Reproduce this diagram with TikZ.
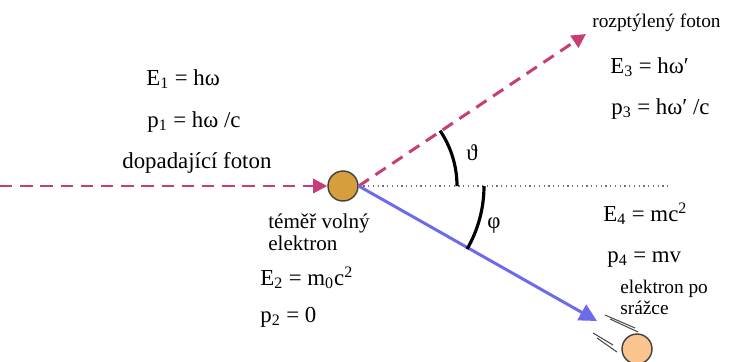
\documentclass[tikz,border=0pt]{standalone}
\usepackage{fontspec}
\setmainfont{Liberation Serif}
\usetikzlibrary{arrows.meta,positioning}
\definecolor{photon}{HTML}{C83C78}
\definecolor{elpath}{HTML}{6B6BEB}
\definecolor{elgold}{HTML}{D69E3C}
\definecolor{elpeach}{HTML}{FBC38E}

\begin{document}
\begin{tikzpicture}[
  x=0.02cm, y=-0.02cm,
  font=\fontsize{13}{12}\selectfont,
  txt/.style={inner sep=0pt, anchor=base west, align=left},
  small/.style={font=\fontsize{11}{11.4}\selectfont},
  ph/.style={photon, line width=1.7pt, dash pattern=on 7pt off 4.5pt,
    -{Triangle[length=8pt,width=8pt]}},
  elp/.style={elpath, line width=1.7pt, -{Triangle[length=10pt,width=10pt]}},
  ball/.style={draw=black!75, thick, circle, inner sep=0pt, minimum size=0.6cm},
  ang/.style={black, line width=1.8pt},
  motion/.style={black!70, line width=0.6pt}
]
\useasboundingbox (0,0) rectangle (731,362);

\node[ball, fill=elgold] (e1) at (343,186) {};
\node[ball, fill=elpeach] (e2) at (637,349) {};

\coordinate (start) at (0,186);
\coordinate (scat) at (586,34);
\coordinate (etip) at (597,321);
\coordinate (hzend) at (668,186);
\coordinate (thA) at (457,186);
\coordinate (phA) at (484,186);

\draw[black!55, dotted, line width=0.7pt] (e1.east) -- (hzend);
\draw[ph] (start) -- (e1.west);
\draw[ph] (e1.east) -- (scat);
\draw[elp] (e1.east) -- (etip);

\draw[ang] (thA) arc[start angle=0, end angle=34, radius=1.98cm];
\draw[ang] (phA) arc[start angle=0, end angle=-30, radius=2.52cm];
\node (theta) at (472,153) {ϑ};
\node (phi) at (494,226) {φ};

\draw[motion] (605,315) -- (635,328); \draw[motion] (610,319) -- (638,332);
\draw[motion] (593,333) -- (613,345); \draw[motion] (597,338) -- (617,352);

\node[txt] (E1) at (146,85) {E\textsubscript{1} = hω};
\node[txt] (p1) at (147,127) {p\textsubscript{1} = hω /c};
\node[txt] (inph) at (122,168) {dopadající foton};
\node[txt, small] (outph) at (592,27) {rozptýlený foton};
\node[txt] (E3) at (610,73) {E\textsubscript{3} = hω′};
\node[txt] (p3) at (611,114) {p\textsubscript{3} = hω′ /c};
\node[txt, font=\fontsize{12}{12}\selectfont] (free) at (268,250) {téměř volný\\elektron};
\node[txt] (E2) at (260,285) {E\textsubscript{2} = m\textsubscript{0}c\textsuperscript{2}};
\node[txt] (p2) at (260,322) {p\textsubscript{2} = 0};
\node[txt] (E4) at (603,221) {E\textsubscript{4} = mc\textsuperscript{2}};
\node[txt] (p4) at (607,262) {p\textsubscript{4} = mv};
\node[txt, small] (after) at (620,314) {elektron po\\srážce};
\end{tikzpicture}
\end{document}
